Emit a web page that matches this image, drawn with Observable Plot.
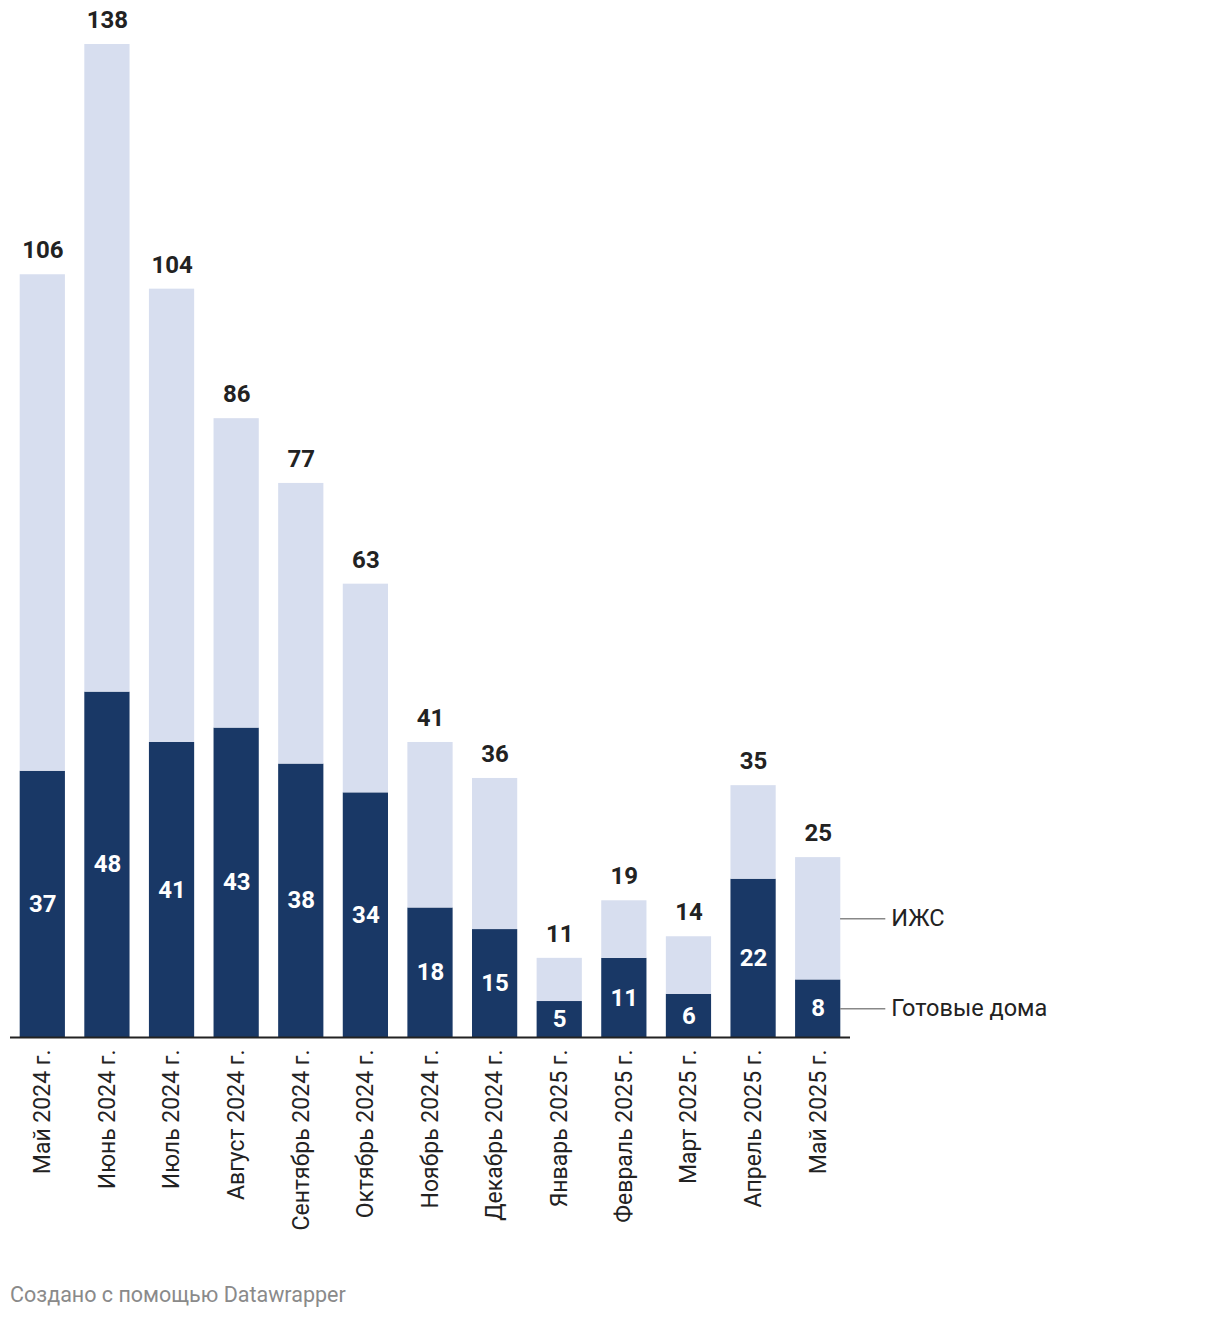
<!DOCTYPE html>
<html>
<head>
<meta charset="utf-8">
<script src="https://cdn.jsdelivr.net/npm/d3@7"></script>
<script src="https://cdn.jsdelivr.net/npm/@observablehq/plot@0.6"></script>
<style>
  body { margin: 0; background: #fff; font-family: Roboto, sans-serif; }
  #chart svg { display: block; }
  #footer { margin: 12px 0 0 10px; font-family: Roboto, sans-serif; font-size: 21.5px; color: #8a8a8a; }
</style>
</head>
<body>
<div id="chart"></div>
<div id="footer">Создано с помощью Datawrapper</div>
<script>
const months = ["Май 2024 г.", "Июнь 2024 г.", "Июль 2024 г.", "Август 2024 г.", "Сентябрь 2024 г.", "Октябрь 2024 г.", "Ноябрь 2024 г.", "Декабрь 2024 г.", "Январь 2025 г.", "Февраль 2025 г.", "Март 2025 г.", "Апрель 2025 г.", "Май 2025 г."];
const ready = [37, 48, 41, 43, 38, 34, 18, 15, 5, 11, 6, 22, 8];
const totals = [106, 138, 104, 86, 77, 63, 41, 36, 11, 19, 14, 35, 25];
const seriesNames = ["Готовые дома", "ИЖС"];
const colors = ["#193866", "#d7deef"];

const rows = [];
months.forEach((m, i) => {
  rows.push({month: m, series: seriesNames[0], y1: 0, y2: ready[i]});
  rows.push({month: m, series: seriesNames[1], y1: ready[i], y2: totals[i]});
});
const totalRows = months.map((m, i) => ({month: m, total: totals[i], ready: ready[i]}));
const last = months.length - 1;
const legendRows = [
  {month: months[last], series: seriesNames[1], y: (ready[last] + totals[last]) / 2},
  {month: months[last], series: seriesNames[0], y: ready[last] / 2}
];

const chart = Plot.plot({
  width: 1220,
  height: 1270,
  marginLeft: 10,
  marginRight: 370,
  marginTop: 44,
  marginBottom: 233,
  style: {fontFamily: "Roboto, sans-serif", fontSize: "23px", color: "#222", background: "#fff"},
  x: {domain: months, paddingInner: 0.3, paddingOuter: 0.15, round: false, label: null},
  y: {domain: [0, 138], axis: null},
  color: {domain: seriesNames, range: colors},
  marks: [
    Plot.rectY(rows, {x: "month", y1: "y1", y2: "y2", fill: "series"}),
    Plot.axisX({tickRotate: -90, tickSize: 0, tickPadding: 12, fontSize: 23, fill: "#222", label: null}),
    Plot.ruleY([0], {stroke: "#222", strokeWidth: 2}),
    Plot.text(totalRows, {x: "month", y: "total", text: d => String(d.total), dy: -24, fontWeight: "bold", fontSize: 24, fill: "#222"}),
    Plot.text(totalRows, {x: "month", y: d => d.ready / 2, text: d => String(d.ready), fontWeight: "bold", fontSize: 24, fill: "#fff"}),
    Plot.tickY(legendRows, {x: "month", y: "y", dx: 45, stroke: "#888", strokeWidth: 1.5}),
    Plot.text(legendRows, {x: "month", y: "y", text: "series", dx: 73, textAnchor: "start", fontSize: 23.5, fill: "#222"})
  ]
});
document.getElementById("chart").appendChild(chart);
</script>
</body>
</html>
